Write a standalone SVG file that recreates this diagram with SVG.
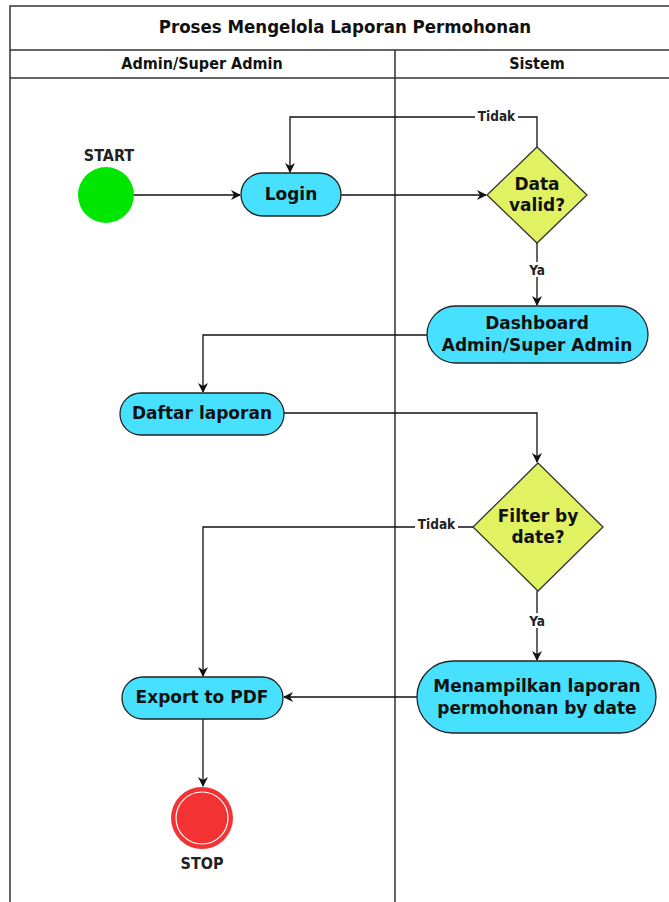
<svg xmlns="http://www.w3.org/2000/svg" width="669" height="902" viewBox="0 0 669 902">
  <style>
    .lane { fill: none; stroke: #333; stroke-width: 1.5; }
    .act { fill: #47E1FF; stroke: #222; stroke-width: 1.3; }
    .dec { fill: #E0F261; stroke: #333; stroke-width: 1.3; }
    .edge { fill: none; stroke: #111; stroke-width: 1.3; }
    .t { font-family: "DejaVu Sans", Verdana, sans-serif; font-weight: bold; font-size: 17px; fill: #111; text-anchor: middle; }
    .hdr { font-family: "DejaVu Sans Condensed", "DejaVu Sans", sans-serif; font-weight: bold; font-size: 18.5px; fill: #111; text-anchor: middle; }
    .sub { font-size: 16px; }
    .lbl { font-family: "DejaVu Sans Condensed", "DejaVu Sans", sans-serif; font-weight: bold; font-size: 13.5px; fill: #222; text-anchor: middle; }
    .cap { font-family: "DejaVu Sans Condensed", "DejaVu Sans", sans-serif; font-weight: bold; font-size: 16px; fill: #222; text-anchor: middle; }
  </style>
  <defs>
    <marker id="arrow" viewBox="0 0 10 10" refX="9" refY="5" markerWidth="10" markerHeight="10" markerUnits="userSpaceOnUse" orient="auto">
      <path d="M0,0 L10,5 L0,10 L3,5 Z" fill="#111"/>
    </marker>
  </defs>
  <rect width="669" height="902" fill="#fff"/>

  <!-- swimlane frame -->
  <g id="pool">
    <path class="lane" d="M10,902 V6 H670 M10,50 H670 M10,78 H670 M395,50 V902"/>
    <text class="hdr" x="345" y="33">Proses Mengelola Laporan Permohonan</text>
    <text class="hdr sub" x="202" y="69">Admin/Super Admin</text>
    <text class="hdr sub" x="537" y="69">Sistem</text>
  </g>

  <!-- connectors -->
  <g id="edges">
    <path class="edge" d="M134,195 H240" marker-end="url(#arrow)"/>
    <path class="edge" d="M341,195 H486" marker-end="url(#arrow)"/>
    <path class="edge" d="M537,147 V117 H290 V172" marker-end="url(#arrow)"/>
    <path class="edge" d="M537,243 V305" marker-end="url(#arrow)"/>
    <path class="edge" d="M427,335 H203 V392" marker-end="url(#arrow)"/>
    <path class="edge" d="M284,413 H537 V462" marker-end="url(#arrow)"/>
    <path class="edge" d="M473,527 H203 V676" marker-end="url(#arrow)"/>
    <path class="edge" d="M537,591 V660" marker-end="url(#arrow)"/>
    <path class="edge" d="M417,697 H284" marker-end="url(#arrow)"/>
    <path class="edge" d="M203,719 V786" marker-end="url(#arrow)"/>
    <!-- branch labels -->
    <rect x="475" y="109" width="43" height="15" fill="#fff"/>
    <text class="lbl" x="496.5" y="121">Tidak</text>
    <rect x="527" y="262" width="20" height="15" fill="#fff"/>
    <text class="lbl" x="537" y="275">Ya</text>
    <rect x="415" y="518" width="43" height="15" fill="#fff"/>
    <text class="lbl" x="436.5" y="529">Tidak</text>
    <rect x="527" y="613" width="20" height="15" fill="#fff"/>
    <text class="lbl" x="537" y="626">Ya</text>
  </g>

  <g id="start">
    <circle cx="106" cy="195" r="28" fill="#00E600"/>
    <text class="cap" x="109" y="161">START</text>
  </g>

  <g id="login">
    <rect class="act" x="241" y="173" width="100" height="43" rx="21.5"/>
    <text class="t" x="291" y="200">Login</text>
  </g>

  <g id="data-valid">
    <polygon class="dec" points="537,147 587,195 537,243 487,195"/>
    <text class="t" x="537" y="190">Data</text>
    <text class="t" x="537" y="211">valid?</text>
  </g>

  <g id="dashboard">
    <rect class="act" x="427" y="306" width="221" height="57" rx="28.5"/>
    <text class="t" x="537" y="329">Dashboard</text>
    <text class="t" x="537" y="351">Admin/Super Admin</text>
  </g>

  <g id="daftar-laporan">
    <rect class="act" x="120" y="393" width="164" height="42" rx="21"/>
    <text class="t" x="202" y="419">Daftar laporan</text>
  </g>

  <g id="filter-date">
    <polygon class="dec" points="538,463 603,527 538,591 473,527"/>
    <text class="t" x="538" y="522">Filter by</text>
    <text class="t" x="538" y="543">date?</text>
  </g>

  <g id="menampilkan">
    <rect class="act" x="417" y="661" width="239" height="72" rx="36"/>
    <text class="t" x="537" y="692">Menampilkan laporan</text>
    <text class="t" x="537" y="714">permohonan by date</text>
  </g>

  <g id="export-pdf">
    <rect class="act" x="122" y="677" width="161" height="42" rx="21"/>
    <text class="t" x="202" y="703">Export to PDF</text>
  </g>

  <g id="stop">
    <circle cx="202" cy="818" r="31" fill="#F33333"/>
    <circle cx="202" cy="818" r="26" fill="none" stroke="#fff" stroke-width="1.2"/>
    <text class="cap" x="202" y="869">STOP</text>
  </g>
</svg>
